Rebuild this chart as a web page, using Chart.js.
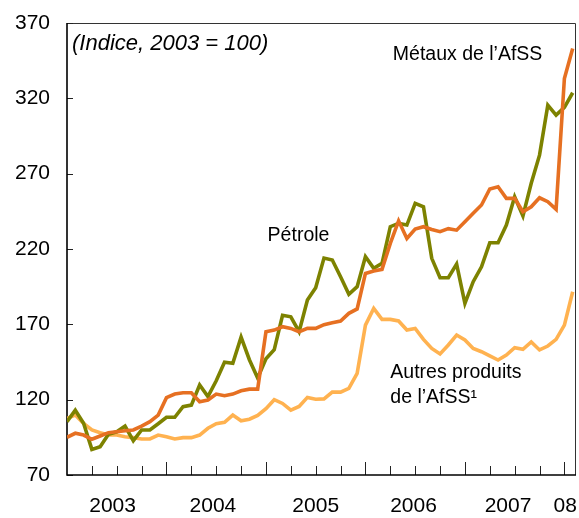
<!DOCTYPE html>
<html>
<head>
<meta charset="utf-8">
<script src="https://cdn.jsdelivr.net/npm/chart.js@4/dist/chart.umd.min.js"></script>
<style>
  html, body { margin: 0; padding: 0; background: #fff; }
  #wrap { width: 579px; height: 518px; }
</style>
</head>
<body>
<div id="wrap"><canvas id="myChart" width="579" height="518"></canvas></div>
<script>
// Monthly index, Jan 2003 .. Feb 2008 (2003 = 100)
const petrole = [105.4, 113, 104.3, 87, 88.8, 97, 98.7, 102.5, 92.8, 99.9, 99.9, 104,
  108.3, 108.3, 115.3, 116.4, 129.7, 122, 132.5, 144.8, 144.1, 161.5, 146.5, 134.4,
  147.2, 153.2, 176, 175, 165.1, 186.1, 194.3, 214, 212.7, 201.6, 189.9, 195,
  214.9, 207.2, 210.5, 234.8, 237, 235.9, 250.3, 248, 213.8, 200.9, 200.9, 210,
  183.9, 198.3, 208.2, 224.1, 224.1, 235.9, 254.7, 241.9, 263.6, 282.3, 315.5, 308.9,
  314, 323.7];

const metaux = [95, 97.7, 96.5, 93.7, 95.9, 98.1, 98.7, 99.4, 99.9, 102.5, 105.4, 109.8,
  121.3, 123.7, 124.6, 124.6, 118.6, 119.8, 123.7, 122.6, 123.7, 125.9, 127, 127,
  165.1, 166.2, 168.4, 167.3, 165.1, 167.3, 167.3, 169.8, 171.1, 172.2, 177.3, 180.2,
  203.8, 205.4, 206.5, 223.7, 238.7, 227, 233.2, 234.8, 233, 231.5, 233.5, 232.5,
  238.1, 243.7, 249.2, 259.8, 261.3, 253.6, 253.6, 244.7, 248, 254, 251.4, 246.3,
  333.2, 353.1];

const autres = [107.6, 109.8, 104.3, 99.9, 98.1, 96.5, 96.5, 95.4, 94.8, 93.9, 93.9, 96.5,
  95.4, 93.9, 94.8, 94.8, 96.5, 101, 104, 105, 109.8, 106, 107, 109.5,
  114, 120, 117.5, 113, 115.5, 121.5, 120.3, 120.5, 125, 125, 127.5, 137.5,
  169.5, 180.6, 173.3, 173.3, 172.2, 166.2, 167.3, 160, 154, 150.3, 156.3, 162.9,
  159.6, 154, 151.8, 149, 146.3, 149.6, 154.5, 153.4, 158.3, 153, 155.6, 160,
  169.5, 191.6];

const yearLabels = ['2003', '2004', '2005', '2006', '2007', '08'];
const yearCenters = [5.5, 17.6, 30, 41.8, 53.2, 60.1];

const toPoints = arr => arr.map((v, i) => ({ x: i, y: v }));

const FONT = '"Liberation Sans", Arial, Helvetica, sans-serif';

// frame, inside tick marks and the text labels
const decorations = {
  id: 'decorations',
  beforeDatasetsDraw(chart) {
    const ctx = chart.ctx;
    const a = chart.chartArea;
    const xs = chart.scales.x;
    const ys = chart.scales.y;
    ctx.save();
    // top / right border
    ctx.strokeStyle = '#333';
    ctx.lineWidth = 1;
    ctx.beginPath();
    ctx.moveTo(a.left, a.top + 0.5);
    ctx.lineTo(a.right - 0.5, a.top + 0.5);
    ctx.lineTo(a.right - 0.5, a.bottom);
    ctx.stroke();
    // x tick marks every quarter, longer ones for January
    ctx.strokeStyle = '#222';
    for (let m = 3; m <= 60; m += 3) {
      const px = Math.round(xs.getPixelForValue(m)) + 0.5;
      const len = (m % 12 === 0) ? 13 : 9;
      ctx.beginPath();
      ctx.moveTo(px, a.bottom);
      ctx.lineTo(px, a.bottom - len);
      ctx.stroke();
    }
    // y tick marks
    ys.ticks.forEach(t => {
      const py = Math.round(ys.getPixelForValue(t.value)) + 0.5;
      ctx.beginPath();
      ctx.moveTo(a.left, py);
      ctx.lineTo(a.left + 6, py);
      ctx.stroke();
    });
    // axes
    ctx.strokeStyle = '#000';
    ctx.lineWidth = 1.6;
    ctx.beginPath();
    ctx.moveTo(a.left, a.top);
    ctx.lineTo(a.left, a.bottom);
    ctx.lineTo(a.right, a.bottom);
    ctx.stroke();
    ctx.restore();
  },
  afterDraw(chart) {
    const ctx = chart.ctx;
    const xs = chart.scales.x;
    const ys = chart.scales.y;
    const put = (txt, m, v, font) => {
      ctx.font = font;
      ctx.fillText(txt, xs.getPixelForValue(m), ys.getPixelForValue(v));
    };
    ctx.save();
    ctx.fillStyle = '#000';
    ctx.textAlign = 'left';
    ctx.textBaseline = 'alphabetic';
    put('(Indice, 2003 = 100)', 0.6, 352, 'italic 22px ' + FONT);
    put('Pétrole', 24.2, 225.3, '19.5px ' + FONT);
    put('Métaux de l’AfSS', 39.3, 345.4, '19.5px ' + FONT);
    put('Autres produits', 39, 134.6, '19.5px ' + FONT);
    put('de l’AfSS¹', 39, 117.6, '19.5px ' + FONT);
    ctx.restore();
  }
};

const data = {
  datasets: [{
    label: 'Métaux de l’AfSS',
    data: toPoints(metaux),
    borderColor: 'rgb(230, 112, 34)'
  }, {
    label: 'Pétrole',
    data: toPoints(petrole),
    borderColor: 'rgb(125, 130, 0)'
  }, {
    label: 'Autres produits de l’AfSS',
    data: toPoints(autres),
    borderColor: 'rgb(255, 178, 80)'
  }]
};

const config = {
  type: 'line',
  data: data,
  options: {
    responsive: false,
    animation: false,
    layout: { padding: { top: 23, right: 3, left: 0, bottom: 0 } },
    elements: {
      line: { borderWidth: 3.6, tension: 0, fill: false },
      point: { radius: 0 }
    },
    plugins: {
      legend: { display: false },
      tooltip: { enabled: false }
    },
    scales: {
      x: {
        type: 'linear',
        min: 0,
        max: 61.4,
        border: { display: false },
        grid: { display: false, drawTicks: false },
        afterBuildTicks: scale => {
          scale.ticks = yearCenters.map(v => ({ value: v }));
        },
        afterFit: scale => {
          scale.height = 43;
          scale.paddingLeft = 0;
          scale.paddingRight = 0;
        },
        ticks: {
          autoSkip: false,
          maxRotation: 0,
          padding: 19,
          color: '#000',
          font: { family: FONT, size: 21 },
          callback: (val, i) => yearLabels[i]
        }
      },
      y: {
        min: 70,
        max: 370,
        border: { display: false },
        grid: { display: false, drawTicks: false },
        afterFit: scale => {
          scale.width = 67;
          scale.paddingTop = 0;
          scale.paddingBottom = 0;
        },
        ticks: {
          stepSize: 50,
          padding: 17,
          color: '#000',
          font: { family: FONT, size: 21 }
        }
      }
    }
  },
  plugins: [decorations]
};

const chart = new Chart(document.getElementById('myChart'), config);
</script>
</body>
</html>
